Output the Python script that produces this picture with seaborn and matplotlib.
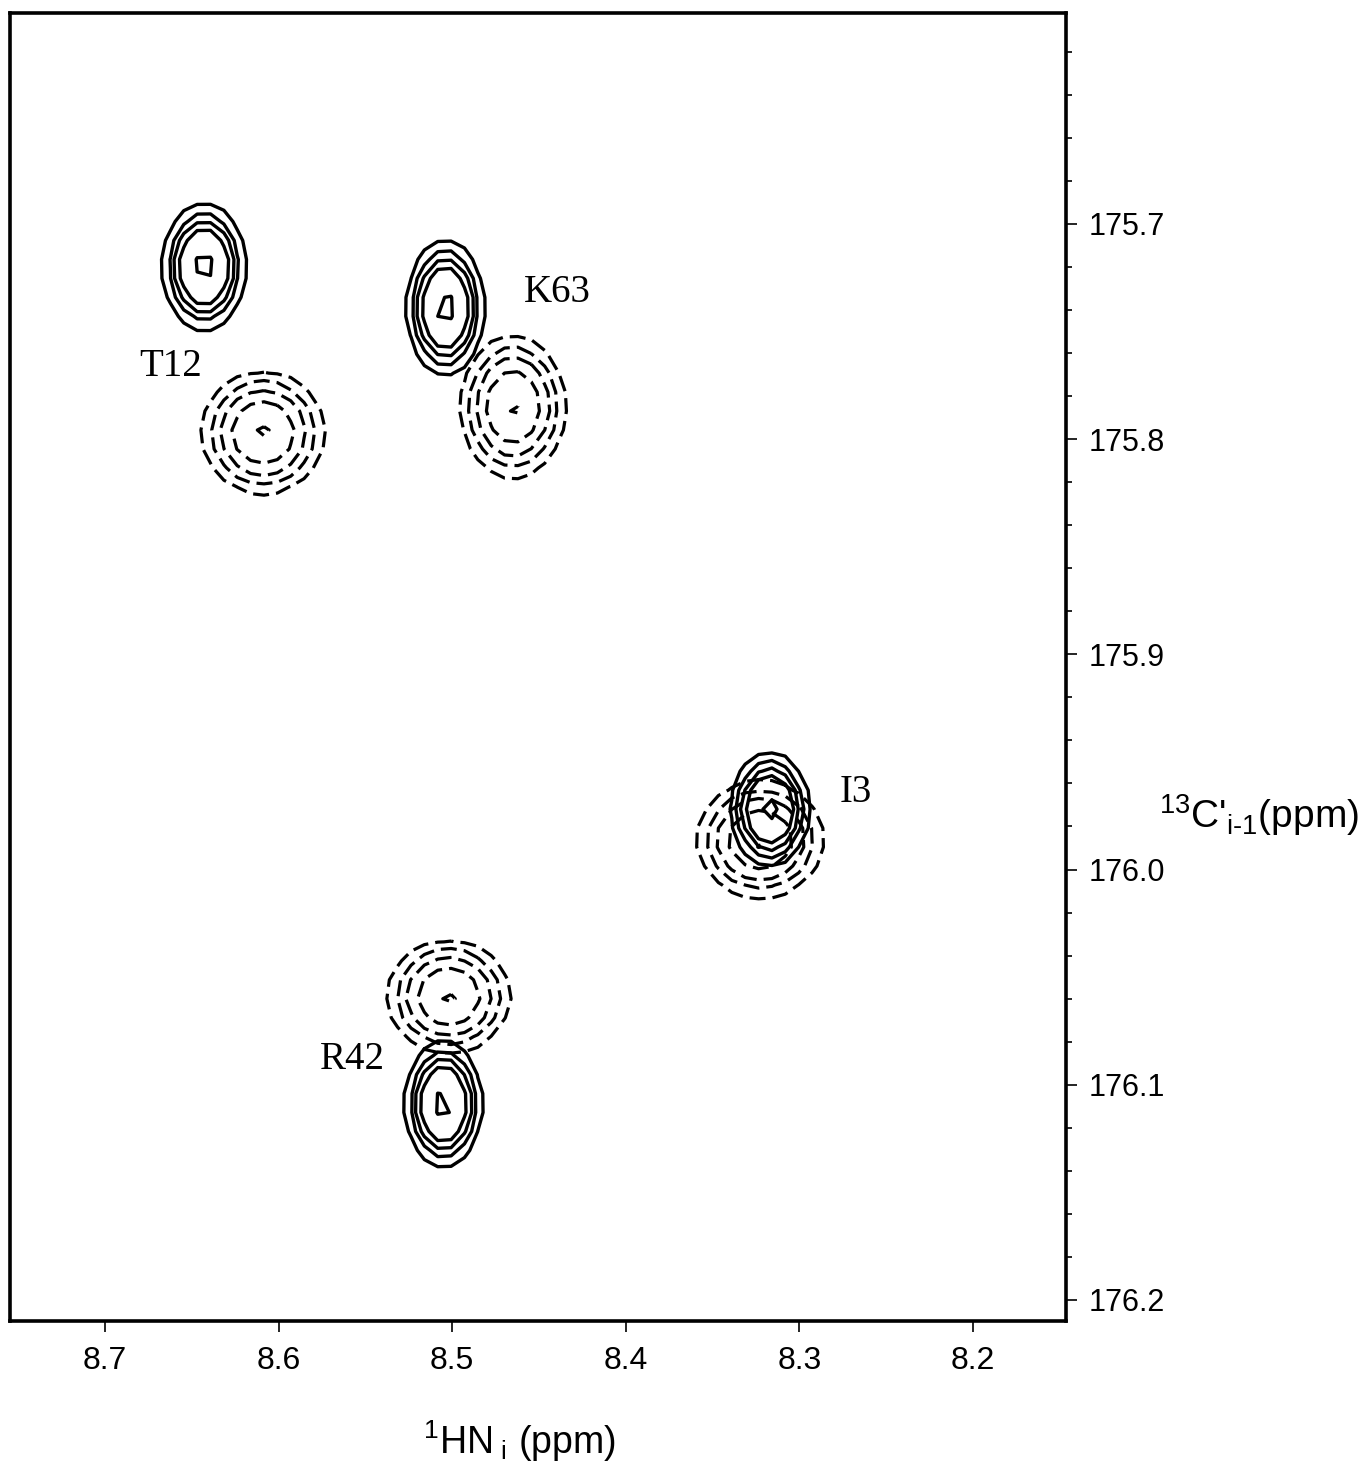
import numpy as np
import matplotlib
matplotlib.use("Agg")
import matplotlib.pyplot as plt
from matplotlib.ticker import MultipleLocator, FormatStrFormatter
import seaborn as sns

# peak table (ppm): 1H shift, 13C shift, half-width of outer contour in H and C
solid_names = ["T12", "K63", "I3", "R42"]
solid_h = [8.643, 8.504, 8.317, 8.505]
solid_c = [175.720, 175.739, 175.972, 176.109]
solid_wh = [0.0236, 0.0219, 0.0225, 0.0219]
solid_wc = [0.0290, 0.0312, 0.0260, 0.0288]

dashed_names = ["T12", "K63", "I3", "R42"]
dashed_h = [8.609, 8.465, 8.3225, 8.502]
dashed_c = [175.797, 175.785, 175.986, 176.059]
dashed_wh = [0.0352, 0.0300, 0.0363, 0.0352]
dashed_wc = [0.0279, 0.0325, 0.0265, 0.0256]

label_text = ["T12", "K63", "I3", "R42"]
label_h = [8.6625, 8.4395, 8.2677, 8.5576]
label_c = [175.7665, 175.732, 175.9644, 176.0885]

solid_levels = [0.1, 0.2, 0.3, 0.44, 0.88]
dashed_levels = [0.1, 0.2, 0.33, 0.55, 0.95]

sns.set_theme(style="white")
plt.rcParams["font.family"] = ["Liberation Sans", "DejaVu Sans"]
plt.rcParams["mathtext.fontset"] = "custom"
plt.rcParams["mathtext.rm"] = "Liberation Sans"
plt.rcParams["mathtext.it"] = "Liberation Sans"
plt.rcParams["mathtext.default"] = "rm"
plt.rcParams["text.color"] = "black"
plt.rcParams["axes.labelcolor"] = "black"

fig = plt.figure(figsize=(13.71, 14.75), dpi=100)
ax = fig.add_axes([0.0073, 0.1044, 0.7702, 0.8868])

xlim = (8.7548, 8.1464)
ylim = (176.2098, 175.602)
hh = np.linspace(xlim[1], xlim[0], 80)
cc = np.linspace(ylim[1], ylim[0], 70)
H, C = np.meshgrid(hh, cc)

k = np.sqrt(2 * np.log(10))


def spectrum(hs, cs, whs, wcs):
    z = np.zeros_like(H)
    for h0, c0, wh, wc in zip(hs, cs, whs, wcs):
        sh, sc = wh / k, wc / k
        z += np.exp(-0.5 * (((H - h0) / sh) ** 2 + ((C - c0) / sc) ** 2))
    return z


z_pos = spectrum(solid_h, solid_c, solid_wh, solid_wc)
z_neg = spectrum(dashed_h, dashed_c, dashed_wh, dashed_wc)

ax.contour(H, C, z_pos, levels=solid_levels, colors="black", linewidths=2.4,
           linestyles="solid")
ax.contour(H, C, z_neg, levels=dashed_levels, colors="black", linewidths=2.3,
           linestyles=[(0, (5, 2.2))])

for t, x, y in zip(label_text, label_h, label_c):
    ax.text(x, y, t, family=["Liberation Serif", "DejaVu Serif"], fontsize=28,
            ha="center", va="center", color="black")

ax.set_xlim(*xlim)
ax.set_ylim(*ylim)

ax.xaxis.set_major_locator(MultipleLocator(0.1))
ax.xaxis.set_minor_locator(MultipleLocator(0.01))
ax.yaxis.set_major_locator(MultipleLocator(0.1))
ax.yaxis.set_minor_locator(MultipleLocator(0.02))
ax.xaxis.set_major_formatter(FormatStrFormatter("%.1f"))
ax.yaxis.set_major_formatter(FormatStrFormatter("%.1f"))

ax.yaxis.tick_right()
ax.tick_params(axis="both", which="both", direction="out", colors="black",
               width=1.2)
ax.tick_params(axis="x", which="major", length=8, pad=10, labelsize=23)
ax.tick_params(axis="y", which="major", length=8, pad=8, labelsize=22)
ax.tick_params(axis="both", which="minor", length=4)
ax.tick_params(axis="y", left=False, right=True)
ax.tick_params(axis="x", bottom=True, top=False)

for s in ax.spines.values():
    s.set_visible(True)
    s.set_color("black")
    s.set_linewidth(2.6)

ax.set_xlabel(r"$^{1}$HN$_{\ i}$ (ppm)", fontsize=27)
ax.xaxis.set_label_coords(0.482, -0.092)
ax.xaxis.label.set_va("center")

ax.set_ylabel(r"$^{13}$C'$_{\text{i-1}}$(ppm)", fontsize=28, rotation=0,
              ha="left", va="center")
ax.yaxis.set_label_position("right")
ax.yaxis.set_label_coords(1.088, 0.404)

fig.savefig("out.png", dpi=100, facecolor="white")
